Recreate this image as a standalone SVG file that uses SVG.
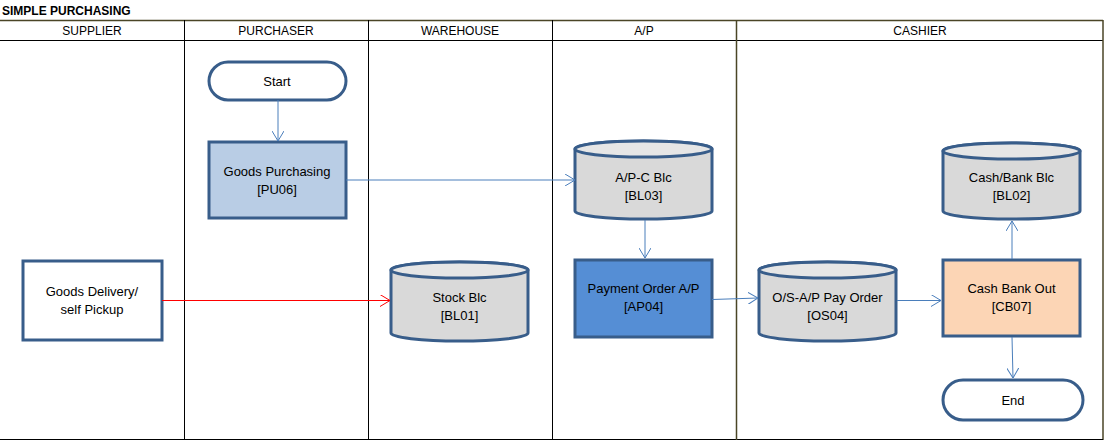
<svg xmlns="http://www.w3.org/2000/svg" width="1105" height="441" viewBox="0 0 1105 441">
<defs>
<style>
text{font-family:"Liberation Sans","DejaVu Sans",sans-serif;font-size:13px;fill:#000;text-anchor:middle}
.hdr{font-size:12px}
.title{font-weight:bold;text-anchor:start;font-size:12px}
.lane{stroke:#000;stroke-width:1;fill:none}
.olive{stroke:#4a4526;stroke-width:1.5;fill:none}
.box{stroke:#385d8a;stroke-width:3}
.cyl{fill:#d9d9d9;stroke:#385d8a;stroke-width:3}
.conn{stroke:#4a7ebb;stroke-width:1;fill:none;marker-end:url(#arr)}
.red{stroke:#ff0000;stroke-width:1;fill:none;marker-end:url(#arrR)}
</style>
<marker id="arr" viewBox="0 0 10 12" refX="10" refY="6" markerWidth="10" markerHeight="12" markerUnits="userSpaceOnUse" orient="auto">
<path d="M0,0 L10,6 L0,12" fill="none" stroke="#4a7ebb" stroke-width="1"/>
</marker>
<marker id="arrR" viewBox="0 0 10 12" refX="10" refY="6" markerWidth="10" markerHeight="12" markerUnits="userSpaceOnUse" orient="auto">
<path d="M0,0 L10,6 L0,12" fill="none" stroke="#ff0000" stroke-width="1"/>
</marker>
</defs>
<rect width="1105" height="441" fill="#fff"/>
<g id="lanes">
<text class="title" x="2" y="15">SIMPLE PURCHASING</text>
<line class="olive" x1="0" y1="20.5" x2="1103" y2="20.5"/>
<line class="lane" x1="0" y1="40.5" x2="1103" y2="40.5" stroke-width="1.5"/>
<line class="olive" x1="1103" y1="20" x2="1103" y2="440"/>
<line class="lane" x1="0" y1="439.5" x2="1103" y2="439.5" stroke-width="1.5"/>
<line class="lane" x1="184.5" y1="20" x2="184.5" y2="440"/>
<line class="lane" x1="368.5" y1="20" x2="368.5" y2="440"/>
<line class="lane" x1="552.5" y1="20" x2="552.5" y2="440"/>
<line class="olive" x1="736.5" y1="20" x2="736.5" y2="440"/>
<text class="hdr" x="92" y="35">SUPPLIER</text>
<text class="hdr" x="276" y="35">PURCHASER</text>
<text class="hdr" x="460" y="35">WAREHOUSE</text>
<text class="hdr" x="644" y="35">A/P</text>
<text class="hdr" x="920" y="35">CASHIER</text>
</g>
<g id="start">
<rect class="box" x="209" y="62" width="137" height="38" rx="19" fill="#fff"/>
<text x="277" y="86">Start</text>
</g>
<g id="goods-purchasing">
<rect class="box" x="209" y="142" width="137" height="76" fill="#b9cde5"/>
<text x="277" y="176">Goods Purchasing</text>
<text x="277" y="194">[PU06]</text>
</g>
<g id="goods-delivery">
<rect class="box" x="23" y="261" width="139" height="79" fill="#fff"/>
<text x="92" y="296">Goods Delivery/</text>
<text x="92" y="314">self Pickup</text>
</g>
<g id="stock-blc">
<path class="cyl" d="M391,270 A68.5,8 0 0 1 528,270 L528,333 A68.5,8 0 0 1 391,333 Z"/>
<ellipse cx="459.5" cy="270" rx="68.5" ry="8" fill="#e6e6e6" stroke="#385d8a" stroke-width="3"/>
<text x="459.5" y="302">Stock Blc</text>
<text x="459.5" y="320">[BL01]</text>
</g>
<g id="apc-blc">
<path class="cyl" d="M575,149 A68.5,8 0 0 1 712,149 L712,211 A68.5,8 0 0 1 575,211 Z"/>
<ellipse cx="643.5" cy="149" rx="68.5" ry="8" fill="#e6e6e6" stroke="#385d8a" stroke-width="3"/>
<text x="643.5" y="182">A/P-C Blc</text>
<text x="643.5" y="200">[BL03]</text>
</g>
<g id="payment-order">
<rect class="box" x="575" y="260" width="137" height="77" fill="#558ed5"/>
<text x="643.5" y="293">Payment Order A/P</text>
<text x="643.5" y="311">[AP04]</text>
</g>
<g id="os-pay-order">
<path class="cyl" d="M759,270 A68.5,8 0 0 1 896,270 L896,333 A68.5,8 0 0 1 759,333 Z"/>
<ellipse cx="827.5" cy="270" rx="68.5" ry="8" fill="#e6e6e6" stroke="#385d8a" stroke-width="3"/>
<text x="827.5" y="302">O/S-A/P Pay Order</text>
<text x="827.5" y="320">[OS04]</text>
</g>
<g id="cash-bank-out">
<rect class="box" x="943" y="260" width="137" height="76" fill="#fcd5b5"/>
<text x="1011.5" y="293">Cash Bank Out</text>
<text x="1011.5" y="311">[CB07]</text>
</g>
<g id="cash-bank-blc">
<path class="cyl" d="M943,151 A68.5,8 0 0 1 1080,151 L1080,211 A68.5,8 0 0 1 943,211 Z"/>
<ellipse cx="1011.5" cy="151" rx="68.5" ry="8" fill="#e6e6e6" stroke="#385d8a" stroke-width="3"/>
<text x="1011.5" y="182">Cash/Bank Blc</text>
<text x="1011.5" y="200">[BL02]</text>
</g>
<g id="end">
<rect class="box" x="943" y="380" width="140" height="40" rx="20" fill="#fff"/>
<text x="1013" y="405">End</text>
</g>
<g id="connectors">
<path class="conn" d="M278,100 L278,141"/>
<path class="conn" d="M346,180 L575,180"/>
<path class="conn" d="M645,220 L645,258"/>
<path class="red" d="M162,300.5 L390,300.5"/>
<path class="conn" d="M712,299.5 L758,298"/>
<path class="conn" d="M897,300.5 L941,300.5"/>
<path class="conn" d="M1012,259 L1012,221"/>
<path class="conn" d="M1012,337 L1013,378"/>
</g>
</svg>
